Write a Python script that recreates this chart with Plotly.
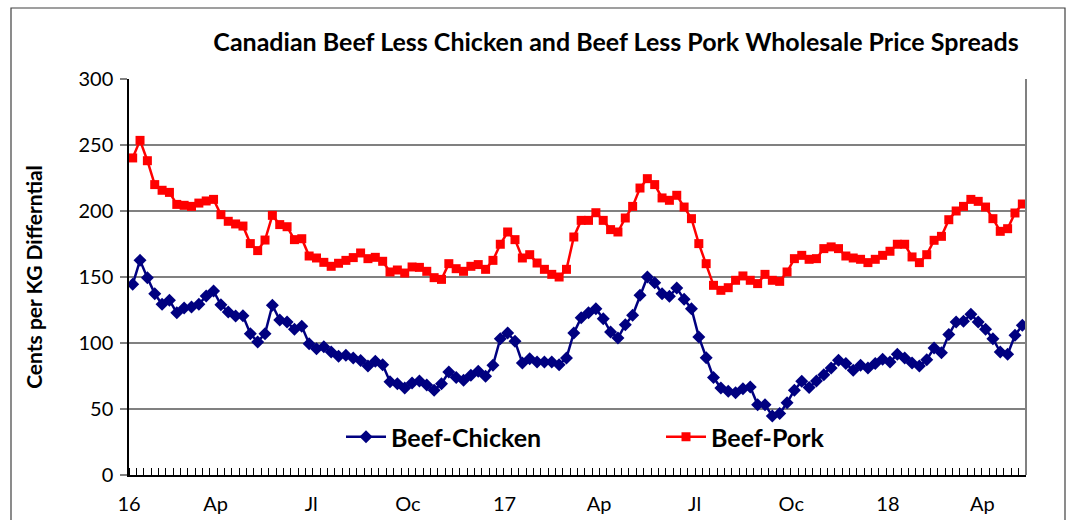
import pandas as pd
import plotly.graph_objects as go

# ---- data (weekly, cents per kg) ----
start_date = "2016-01-13"
beef_pork = [240.2, 253.5, 238.1, 220.0, 215.7, 214.1, 205.0, 204.3, 203.5, 206.0, 207.6, 208.8, 197.2, 192.2,
             190.2, 188.6, 175.3, 170.0, 178.0, 196.7, 189.7,
             188.1, 178.3, 179.0, 165.9, 164.4, 161.1, 158.1, 160.4, 162.6, 164.7, 168.2, 163.9, 164.9, 161.9,
             153.8, 155.3, 153.0, 157.6, 157.3, 154.3,
             149.5, 148.2, 160.1, 156.3, 154.3, 158.1, 159.4, 155.8, 162.6, 174.8, 184.1, 178.3, 164.4, 166.9,
             160.6, 155.8, 152.0, 150.0, 155.8, 180.3, 192.9,
             192.9, 198.7, 192.9, 185.9, 184.1, 194.7, 203.5, 217.4, 224.5, 220.0, 209.9, 208.1, 211.9, 203.0,
             194.2, 175.3, 160.1, 143.7, 139.9, 141.9,
             147.5, 150.8, 147.5, 145.0, 152.0, 147.5, 146.7, 153.8, 163.9, 166.4, 163.4, 163.9, 171.5, 172.8,
             171.5, 165.9, 164.4, 163.4, 160.9, 163.4,
             166.4, 169.5, 174.8, 174.8, 165.2, 160.9, 166.9, 177.8, 180.8, 193.4, 200.0, 203.5, 208.8, 207.3,
             203.0, 194.2, 184.6, 186.6, 198.5, 205.3]

beef_chicken = [144.5, 162.6, 149.5, 137.4, 129.3, 132.3, 123.0, 126.5, 127.3, 129.3, 135.6, 139.4, 129.0, 123.5,
                120.5, 120.7, 107.1, 100.8, 107.1, 128.6, 117.4,
                115.9, 110.4, 112.6, 99.5, 95.7, 97.2, 93.2, 90.0, 90.7, 88.7, 86.7, 82.6, 86.1, 83.6,
                70.7, 69.2, 65.9, 69.7, 71.2, 68.2,
                64.2, 69.2, 78.0, 73.8, 71.7, 75.5, 78.6, 74.8, 83.1, 103.3, 107.6, 101.3, 84.9, 88.1,
                85.6, 85.6, 85.6, 83.6, 88.7, 107.6, 119.2,
                123.0, 126.0, 118.4, 108.3, 103.8, 113.9, 121.0, 136.1, 150.0, 145.7, 137.4, 135.4, 141.7, 133.1,
                126.0, 104.6, 88.9, 73.8, 65.9, 63.4,
                62.4, 65.4, 66.7, 53.3, 53.3, 44.7, 46.5, 54.8, 64.2, 71.0, 66.2, 71.3, 76.0, 81.1,
                86.9, 84.4, 79.3, 83.1, 81.1, 84.4,
                87.6, 85.6, 91.4, 88.6, 84.9, 82.6, 87.4, 96.2, 92.7, 106.4, 116.0, 116.4, 121.7, 116.0,
                110.4, 103.3, 93.2, 91.4, 105.8, 113.4]

tick_dates = ["2016-04-01", "2016-07-01", "2016-10-01", "2017-01-01",
              "2017-04-01", "2017-07-01", "2017-10-01", "2018-01-01", "2018-04-01"]
tick_labels = ["Ap", "Jl", "Oc", "17", "Ap", "Jl", "Oc", "18", "Ap"]
first_label = "16"

dates = pd.date_range(start_date, periods=len(beef_pork), freq="7D")
half_week = pd.Timedelta(days=3.5)
x_range = [dates[0] - half_week, dates[-1] + half_week]

# the year label of the first quarter sits at the very start of the axis
tickvals = [x_range[0].strftime("%Y-%m-%d %H:%M")] + tick_dates
ticktext = [first_label] + tick_labels

FONT = "Lato"

fig = go.Figure()
fig.add_trace(go.Scatter(
    x=dates, y=beef_chicken, name="Beef-Chicken", mode="lines+markers",
    line=dict(color="#000080", width=2.5),
    marker=dict(symbol="diamond", size=10, color="#000080"),
    legend="legend",
))
fig.add_trace(go.Scatter(
    x=dates, y=beef_pork, name="Beef-Pork", mode="lines+markers",
    line=dict(color="#FF0000", width=2.5),
    marker=dict(symbol="square", size=9, color="#FF0000"),
    legend="legend2",
))

L, R, T, B = 129, 42, 79, 45
W, H = 1068, 520
pw, ph = W - L - R, H - T - B

def px_x(p):
    return (p - L) / pw

def px_y(p):
    return (H - B - p) / ph

fig.update_layout(
    width=W, height=H,
    margin=dict(l=L, r=R, t=T, b=B, autoexpand=False),
    paper_bgcolor="white", plot_bgcolor="white",
    font=dict(family=FONT, color="black"),
    title=dict(text="<b>Canadian Beef Less Chicken and Beef Less Pork Wholesale Price Spreads</b>",
               font=dict(size=25, family=FONT, color="black"),
               x=px_x(616), xanchor="center", xref="paper",
               y=1 - 42 / H, yanchor="middle", yref="container"),
    showlegend=True,
    legend=dict(x=px_x(341), y=px_y(437), xanchor="left", yanchor="middle",
                font=dict(size=25, family=FONT, color="black", weight="bold"),
                bgcolor="rgba(0,0,0,0)", itemwidth=40),
    legend2=dict(x=px_x(661), y=px_y(437), xanchor="left", yanchor="middle",
                 font=dict(size=25, family=FONT, color="black", weight="bold"),
                 bgcolor="rgba(0,0,0,0)", itemwidth=40),
    xaxis=dict(
        type="date", range=x_range, automargin=False,
        tickmode="array", tickvals=tickvals, ticktext=ticktext,
        ticks="", showgrid=False, zeroline=False,
        showline=True, linecolor="black", linewidth=1.5,
        tickfont=dict(size=20, family=FONT, color="black"),
        ticklabelstandoff=10,
        minor=dict(ticks="inside", ticklen=7, tickcolor="black", tickwidth=1,
                   tick0=(dates[0] - half_week).strftime("%Y-%m-%d %H:%M"),
                   dtick=7 * 24 * 3600 * 1000, showgrid=False),
    ),
    yaxis=dict(
        range=[0, 300], tickvals=[0, 50, 100, 150, 200, 250, 300], automargin=False,
        showgrid=True, gridcolor="#808080", gridwidth=1.5,
        zeroline=False, showline=True, linecolor="black", linewidth=1.5,
        ticks="outside", ticklen=7, tickcolor="#808080", tickwidth=1.5,
        tickfont=dict(size=20, family=FONT, color="black"),
        ticklabelstandoff=3,
        title=dict(text="<b>Cents per KG Differntial</b>",
                   font=dict(size=21, family=FONT, color="black"), standoff=30),
    ),
    shapes=[
        dict(type="line", xref="paper", yref="paper", x0=1, x1=1, y0=0, y1=1,
             line=dict(color="#808080", width=2)),
        dict(type="rect", xref="paper", yref="paper",
             x0=px_x(11), x1=px_x(1065), y0=px_y(8), y1=px_y(540),
             line=dict(color="#404040", width=1.2), fillcolor="rgba(0,0,0,0)", layer="below"),
    ],
)

fig.write_html("out.html")
